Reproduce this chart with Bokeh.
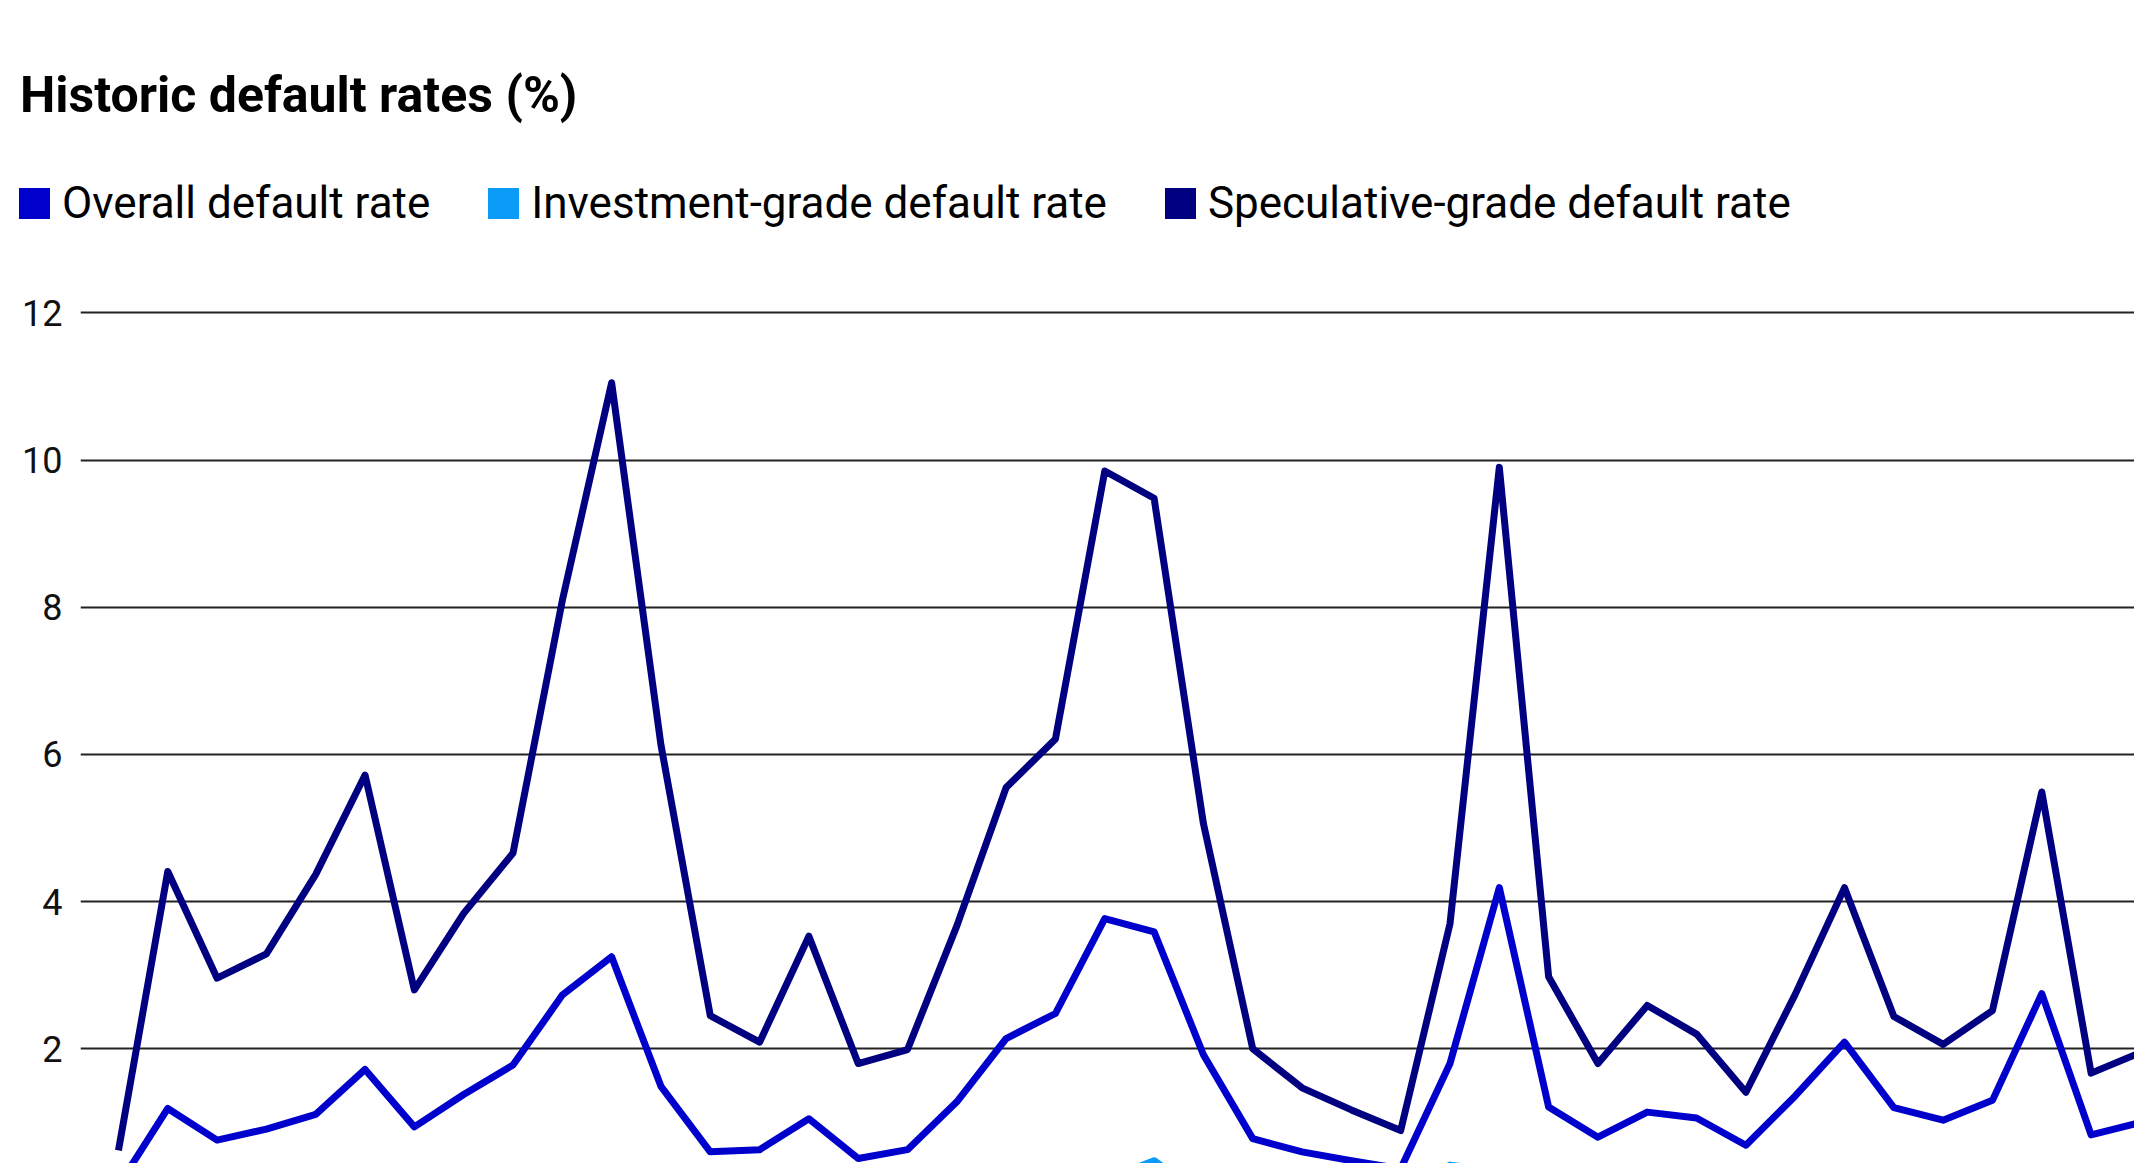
from bokeh.plotting import figure
from bokeh.layouts import column
from bokeh.models import Range1d, FixedTicker, Div
from bokeh.embed import file_html
from bokeh.resources import INLINE

years = list(range(1981, 2023))
overall = [0.14, 1.19, 0.76, 0.91, 1.11, 1.72, 0.94, 1.38, 1.78, 2.73, 3.25, 1.49, 0.60, 0.63,
           1.05, 0.51, 0.63, 1.28, 2.14, 2.48, 3.77, 3.59, 1.92, 0.78, 0.60, 0.48, 0.37, 1.80,
           4.19, 1.21, 0.80, 1.14, 1.06, 0.69, 1.36, 2.09, 1.20, 1.03, 1.30, 2.75, 0.83, 1.00]
investment = [0.00, 0.19, 0.00, 0.00, 0.00, 0.18, 0.00, 0.00, 0.14, 0.00, 0.05, 0.00, 0.00, 0.00,
              0.00, 0.00, 0.08, 0.04, 0.07, 0.13, 0.22, 0.48, 0.00, 0.00, 0.00, 0.00, 0.00, 0.42,
              0.33, 0.00, 0.03, 0.00, 0.00, 0.00, 0.00, 0.00, 0.00, 0.00, 0.00, 0.00, 0.00, 0.00]
speculative = [0.62, 4.41, 2.96, 3.29, 4.37, 5.72, 2.80, 3.84, 4.66, 8.09, 11.05, 6.13, 2.45, 2.09,
               3.53, 1.80, 1.99, 3.67, 5.55, 6.21, 9.85, 9.48, 5.06, 2.00, 1.47, 1.17, 0.89, 3.70,
               9.90, 2.98, 1.80, 2.59, 2.20, 1.41, 2.74, 4.19, 2.44, 2.06, 2.52, 5.49, 1.67, 1.95]
y_ticks = [2, 4, 6, 8, 10, 12]
title_text = "Historic default rates (%)"
labels = ["Overall default rate", "Investment-grade default rate", "Speculative-grade default rate"]
colors = ["#0000cc", "#0a9bf7", "#000080"]

FONT = "Roboto"
W = 2134
HEAD_H = 277
TOP_PAD = 20
FRAME_H = 866

# ---------- header: title + legend (HTML) ----------
items_html = "".join(
    f'<span style="display:inline-flex;align-items:center;margin-right:{58 if i < len(labels) - 1 else 0}px;">'
    f'<span style="display:inline-block;width:31px;height:31px;background:{c};margin-right:12px;"></span>'
    f'<span style="font-size:44px;line-height:44px;color:#000;">{l}</span></span>'
    for i, (l, c) in enumerate(zip(labels, colors))
)
head_html = (
    f'<div style="position:relative;width:{W}px;height:{HEAD_H}px;background:#fff;'
    f'font-family:{FONT},sans-serif;white-space:nowrap;">'
    f'<div style="position:absolute;left:20px;top:70px;font-size:50px;line-height:50px;'
    f'font-weight:700;color:#000;">{title_text}</div>'
    f'<div style="position:absolute;left:19px;top:181px;display:flex;align-items:center;">'
    f'{items_html}</div></div>'
)
head = Div(text=head_html, width=W, height=HEAD_H, margin=0)

# ---------- main chart ----------
p = figure(frame_width=W - 80, frame_height=FRAME_H,
           x_range=Range1d(1980.23, 2021.88), y_range=Range1d(0.442, 12.208),
           x_axis_location=None, output_backend="svg", toolbar_location=None, title=None,
           min_border_left=80, min_border_right=0, min_border_bottom=0, min_border_top=TOP_PAD,
           background_fill_color="white", border_fill_color="white", margin=0)
p.outline_line_color = None
p.xgrid.visible = False

p.yaxis.ticker = FixedTicker(ticks=y_ticks)
p.yaxis.axis_line_color = None
p.yaxis.major_tick_line_color = None
p.yaxis.minor_tick_line_color = None
p.yaxis.major_label_text_font = FONT
p.yaxis.major_label_text_font_size = "36px"
p.yaxis.major_label_text_color = "#111111"
p.yaxis.major_label_standoff = 12
p.ygrid.grid_line_color = "#222222"
p.ygrid.grid_line_width = 2

for series, c in zip([overall, investment, speculative], colors):
    p.line(years, series, line_color=c, line_width=7, line_join="round")

layout = column(head, p, spacing=0)
open("out.html", "w").write(file_html(layout, INLINE))
